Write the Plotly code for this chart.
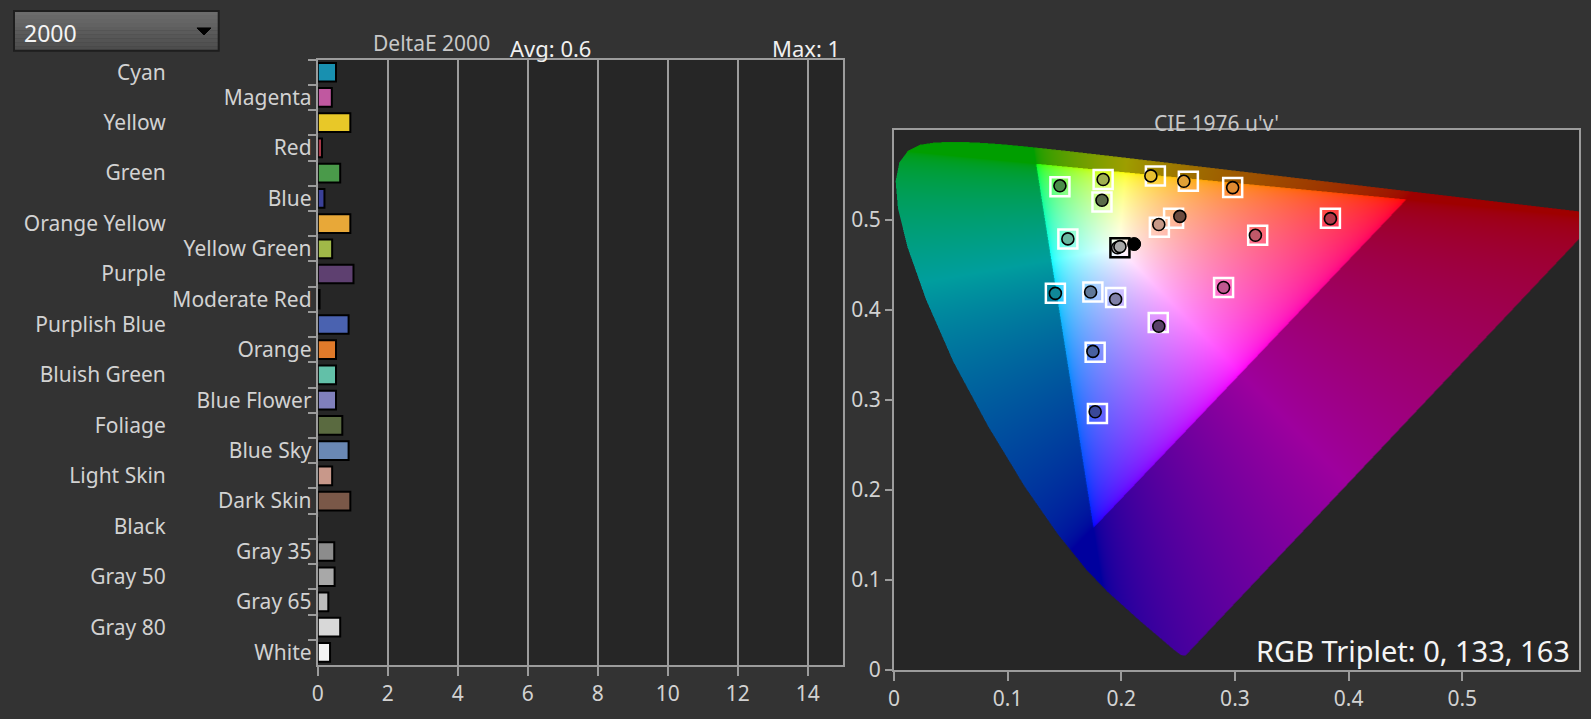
import base64
import struct
import zlib

import numpy as np
import plotly.graph_objects as go

# ---------------- data ----------------
# DeltaE 2000 per ColorChecker patch, top to bottom
patch_names = ["Cyan", "Magenta", "Yellow", "Red", "Green", "Blue", "Orange Yellow",
               "Yellow Green", "Purple", "Moderate Red", "Purplish Blue", "Orange",
               "Bluish Green", "Blue Flower", "Foliage", "Blue Sky", "Light Skin",
               "Dark Skin", "Black", "Gray 35", "Gray 50", "Gray 65", "Gray 80", "White"]
delta_e = [0.52, 0.40, 0.93, 0.12, 0.64, 0.19, 0.93, 0.41, 1.02, 0.05, 0.88, 0.52,
           0.52, 0.52, 0.70, 0.88, 0.41, 0.93, 0.0, 0.47, 0.48, 0.30, 0.64, 0.35]
patch_colors = ["#1890b0", "#c058a0", "#e8c828", "#a83848", "#4a9a4a", "#3a4098",
                "#e8a838", "#a0b848", "#5e4070", "#c05060", "#4a62b0", "#e07a2a",
                "#62c0a8", "#8080bc", "#5a6a40", "#6a88b4", "#c8988a", "#7a5848",
                "#202020", "#8c8c8c", "#a8a8a8", "#bcbcbc", "#d8d8d8", "#f4f4f4"]

# CIE 1976 u'v' targets (squares) and measurements (circles)
chroma_names = ["Green", "Yellow Green", "Foliage", "Yellow", "Orange Yellow", "Orange",
                "Dark Skin", "Light Skin", "Red", "Moderate Red", "Bluish Green",
                "Magenta", "Cyan", "Blue Sky", "Blue Flower", "Purple", "Purplish Blue", "Blue"]
target_u = [0.146, 0.184, 0.183, 0.230, 0.259, 0.298, 0.246, 0.2335, 0.384, 0.320, 0.153,
            0.290, 0.142, 0.175, 0.195, 0.2325, 0.177, 0.179]
target_v = [0.537, 0.545, 0.520, 0.549, 0.543, 0.536, 0.502, 0.492, 0.502, 0.483, 0.479,
            0.425, 0.4185, 0.420, 0.414, 0.386, 0.353, 0.285]
meas_u = [0.146, 0.184, 0.183, 0.226, 0.255, 0.298, 0.2515, 0.233, 0.384, 0.318, 0.153,
          0.290, 0.142, 0.173, 0.195, 0.233, 0.175, 0.177]
meas_v = [0.538, 0.545, 0.522, 0.549, 0.543, 0.536, 0.504, 0.495, 0.5015, 0.483, 0.479,
          0.425, 0.4185, 0.420, 0.412, 0.382, 0.354, 0.287]
meas_colors = ["#4a8c4a", "#a0b050", "#5a6a48", "#e8c030", "#e0a035", "#e08a30",
               "#6a4a3e", "#c89a88", "#b03848", "#c05868", "#68b8a0", "#c05890",
               "#108898", "#607898", "#8080a8", "#5a4068", "#4860a0", "#3a4898"]
white_u = [0.1988]
white_v = [0.4692]
gray_u = [0.1967, 0.1988]
gray_v = [0.4692, 0.4704]
black_u = [0.2113]
black_v = [0.4733]

# CIE 1931 spectral locus (x, y), 380-700 nm
locus_x = [0.1741, 0.1738, 0.1733, 0.1726, 0.1714, 0.1689, 0.1644, 0.1566, 0.1440, 0.1355,
           0.1241, 0.1096, 0.0913, 0.0687, 0.0454, 0.0235, 0.0082, 0.0039, 0.0139, 0.0389,
           0.0743, 0.1142, 0.1547, 0.1929, 0.2296, 0.2658, 0.3016, 0.3373, 0.3731, 0.4087,
           0.4441, 0.4788, 0.5125, 0.5448, 0.5752, 0.6029, 0.6270, 0.6482, 0.6658, 0.6915,
           0.7079, 0.7190, 0.7260, 0.7300, 0.7334, 0.7347]
locus_y = [0.0050, 0.0049, 0.0048, 0.0048, 0.0051, 0.0069, 0.0109, 0.0177, 0.0297, 0.0399,
           0.0578, 0.0868, 0.1327, 0.2007, 0.2950, 0.4127, 0.5384, 0.6548, 0.7502, 0.8120,
           0.8338, 0.8262, 0.8059, 0.7816, 0.7543, 0.7243, 0.6923, 0.6589, 0.6245, 0.5896,
           0.5547, 0.5202, 0.4866, 0.4544, 0.4242, 0.3965, 0.3725, 0.3514, 0.3340, 0.3083,
           0.2920, 0.2809, 0.2740, 0.2700, 0.2666, 0.2653]

U_MAX = 0.603
V_MAX = 0.6

PAPER = "#333333"
PLOT = "#262626"
LINE = "#9c9c9c"
TEXT = "#d2d2d2"
FONT = "Noto Sans"


# ---------------- chromaticity backdrop ----------------
def in_polygon(px, py, pu, pv):
    res = np.zeros(px.shape, dtype=bool)
    j = len(pu) - 1
    for i in range(len(pu)):
        cross = (pv[i] > py) != (pv[j] > py)
        xint = (pu[j] - pu[i]) * (py - pv[i]) / (pv[j] - pv[i] + 1e-12) + pu[i]
        res ^= cross & (px < xint)
        j = i
    return res


def make_backdrop(w=686, h=540, ss=2):
    lx = np.array(locus_x)
    ly = np.array(locus_y)
    d = -2 * lx + 12 * ly + 3
    lu, lv = 4 * lx / d, 9 * ly / d

    uu = (np.arange(w * ss) + 0.5) / (w * ss) * U_MAX
    vv = V_MAX - (np.arange(h * ss) + 0.5) / (h * ss) * V_MAX
    U, V = np.meshgrid(uu, vv)
    den = 6 * U - 16 * V + 12
    x = 9 * U / den
    y = 4 * V / den
    X = x / y
    Z = (1 - x - y) / y
    r = 3.2406 * X - 1.5372 - 0.4986 * Z
    g = -0.9689 * X + 1.8758 + 0.0415 * Z
    b = 0.0557 * X - 0.2040 + 1.0570 * Z
    lin = np.stack([r, g, b], axis=-1)
    outside = (lin < 0).any(axis=-1)
    lin = np.clip(lin, 0, None)
    lin = lin / np.maximum(lin.max(axis=-1, keepdims=True), 1e-9)
    rgb = np.where(lin <= 0.0031308, 12.92 * lin, 1.055 * lin ** (1 / 2.4) - 0.055)
    rgb[outside] *= 0.62
    alpha = in_polygon(U, V, lu, lv).astype(float)

    rgb = rgb * alpha[..., None]
    rgb = rgb.reshape(h, ss, w, ss, 3).sum(axis=(1, 3))
    a = alpha.reshape(h, ss, w, ss).sum(axis=(1, 3))
    rgb = rgb / np.maximum(a, 1e-9)[..., None]
    a = a / (ss * ss)
    img = np.concatenate([rgb, a[..., None]], axis=-1)
    img = (np.clip(img, 0, 1) * 255 + 0.5).astype(np.uint8)

    raw = b"".join(b"\x00" + img[i].tobytes() for i in range(h))

    def chunk(tag, data):
        c = struct.pack(">I", len(data)) + tag + data
        return c + struct.pack(">I", zlib.crc32(tag + data) & 0xFFFFFFFF)

    png = b"\x89PNG\r\n\x1a\n"
    png += chunk(b"IHDR", struct.pack(">IIBBBBB", w, h, 8, 6, 0, 0, 0))
    png += chunk(b"IDAT", zlib.compress(raw, 9))
    png += chunk(b"IEND", b"")
    return "data:image/png;base64," + base64.b64encode(png).decode()


# ---------------- figure ----------------
fig = go.Figure()

fig.add_trace(go.Bar(
    x=delta_e, y=patch_names, orientation="h", width=0.74,
    marker=dict(color=patch_colors, line=dict(color="black", width=2)),
    xaxis="x", yaxis="y", showlegend=False, hoverinfo="x+y",
))
# carrier for the second column of patch labels
fig.add_trace(go.Scatter(x=[None], y=[None], xaxis="x", yaxis="y3",
                         showlegend=False, hoverinfo="skip"))

fig.add_trace(go.Scatter(
    x=target_u, y=target_v, mode="markers", xaxis="x2", yaxis="y2",
    marker=dict(symbol="square-open", size=19, line=dict(color="white", width=2.5),
                color="white"),
    text=chroma_names, hoverinfo="text+x+y", showlegend=False,
))
fig.add_trace(go.Scatter(
    x=gray_u, y=gray_v, mode="markers", xaxis="x2", yaxis="y2",
    marker=dict(symbol="circle", size=12, color="#a8a8a8", line=dict(color="black", width=1.6)),
    hoverinfo="x+y", showlegend=False,
))
fig.add_trace(go.Scatter(
    x=white_u, y=white_v, mode="markers", xaxis="x2", yaxis="y2",
    marker=dict(symbol="square-open", size=19, color="black", line=dict(color="black", width=2.5)),
    hoverinfo="x+y", showlegend=False,
))
fig.add_trace(go.Scatter(
    x=black_u, y=black_v, mode="markers", xaxis="x2", yaxis="y2",
    marker=dict(symbol="circle", size=13, color="black", line=dict(color="black", width=1)),
    hoverinfo="x+y", showlegend=False,
))
fig.add_trace(go.Scatter(
    x=meas_u, y=meas_v, mode="markers", xaxis="x2", yaxis="y2",
    marker=dict(symbol="circle", size=12, color=meas_colors, line=dict(color="black", width=1.6)),
    text=chroma_names, hoverinfo="text+x+y", showlegend=False,
))

odd_text = [n if i % 2 == 1 else "" for i, n in enumerate(patch_names)]
even_idx = list(range(0, len(patch_names), 2))
even_text = [patch_names[i] for i in even_idx]

axis_common = dict(showline=True, linecolor=LINE, linewidth=2, mirror=True,
                   tickcolor=LINE, tickwidth=2, zeroline=False, automargin=False,
                   tickfont=dict(family=FONT, size=21, color=TEXT))

# dropdown look-alike: stepped vertical gradient, then border and arrow
box_x0, box_x1, box_y0, box_y1 = 0.0088, 0.13746, 0.92949, 0.9847
steps = 10
shapes = []
for k in range(steps):
    lvl = int(0x4c + (0x6e - 0x4c) * (k + 0.5) / steps)
    shapes.append(dict(type="rect", xref="paper", yref="paper", layer="above",
                       x0=box_x0, x1=box_x1,
                       y0=box_y0 + (box_y1 - box_y0) * k / steps,
                       y1=box_y0 + (box_y1 - box_y0) * (k + 1) / steps,
                       fillcolor="rgb(%d,%d,%d)" % (lvl, lvl, lvl), line=dict(width=0)))
shapes.append(dict(type="rect", xref="paper", yref="paper", x0=box_x0, x1=box_x1,
                   y0=box_y0, y1=box_y1, line=dict(color="#1e1e1e", width=2)))
shapes.append(dict(type="path", xref="paper", yref="paper",
                   path="M 0.1238 0.9611 L 0.1326 0.9611 L 0.1282 0.9513 Z",
                   fillcolor="black", line=dict(color="black", width=1)))

fig.update_layout(
    width=1591, height=719,
    margin=dict(l=0, r=0, t=0, b=0, autoexpand=False),
    paper_bgcolor=PAPER, plot_bgcolor=PLOT,
    font=dict(family=FONT, size=21, color=TEXT),
    xaxis=dict(domain=[0.19975, 0.52967], anchor="y", range=[0, 15], dtick=2,
               ticks="outside", ticklen=9, showgrid=True, gridcolor=LINE, gridwidth=2,
               fixedrange=True, **axis_common),
    yaxis=dict(domain=[0.0751, 0.9171], anchor="x", type="category",
               categoryorder="array", categoryarray=patch_names, autorange="reversed",
               tickmode="array", tickvals=patch_names, ticktext=odd_text,
               tickson="boundaries", ticks="outside", ticklen=8, showgrid=False,
               fixedrange=True, **axis_common),
    yaxis3=dict(overlaying="y", anchor="x", side="left", range=[23.5, -0.5],
                tickmode="array", tickvals=even_idx, ticktext=even_text,
                ticks="", showline=False, showgrid=False, zeroline=False,
                ticklabelstandoff=151, fixedrange=True, automargin=False,
                tickfont=dict(family=FONT, size=21, color=TEXT)),
    xaxis2=dict(domain=[0.56191, 0.99265], anchor="y2", range=[0, U_MAX],
                tickvals=[0, 0.1, 0.2, 0.3, 0.4, 0.5], ticks="outside", ticklen=9,
                showgrid=False, fixedrange=True, **axis_common),
    yaxis2=dict(domain=[0.06815, 0.81919], anchor="x2", range=[0, V_MAX],
                tickvals=[0, 0.1, 0.2, 0.3, 0.4, 0.5], ticks="outside", ticklen=7,
                showgrid=False, fixedrange=True, **axis_common),
    images=[dict(source=make_backdrop(), xref="x2", yref="y2", x=0, y=V_MAX,
                 sizex=U_MAX, sizey=V_MAX, sizing="stretch",
                 xanchor="left", yanchor="top", layer="below")],
    shapes=shapes,
    annotations=[
        dict(text="2000", xref="paper", yref="paper", x=0.0138, y=0.9541,
             xanchor="left", yanchor="middle", showarrow=False,
             font=dict(family=FONT, size=23, color="#f4f4f4")),
        dict(text="DeltaE 2000", xref="paper", yref="paper", x=0.2713, y=0.9396,
             xanchor="center", yanchor="middle", showarrow=False,
             font=dict(family=FONT, size=21, color="#c8c8c8")),
        dict(text="Avg: 0.6", xref="paper", yref="paper", x=0.3457, y=0.9339,
             xanchor="center", yanchor="middle", showarrow=False,
             font=dict(family=FONT, size=22, color="#f0f0f0")),
        dict(text="Max: 1", xref="paper", yref="paper", x=0.5292, y=0.9339,
             xanchor="right", yanchor="middle", showarrow=False,
             font=dict(family=FONT, size=22, color="#f0f0f0")),
        dict(text="CIE 1976 u'v'", xref="paper", yref="paper", x=0.7649, y=0.8289,
             xanchor="center", yanchor="middle", showarrow=False,
             font=dict(family=FONT, size=21, color="#c8c8c8")),
        dict(text="RGB Triplet: 0, 133, 163", xref="paper", yref="paper", x=0.9879, y=0.0946,
             xanchor="right", yanchor="middle", showarrow=False,
             font=dict(family=FONT, size=29, color="#f4f4f4")),
    ],
)

page_css = (
    "var h=document.documentElement, b=document.body;"
    "h.style.margin='0'; h.style.height='719px'; h.style.overflow='hidden';"
    "h.style.background='#333333';"
    "b.style.margin='0'; b.style.height='719px'; b.style.overflow='hidden';"
    "b.style.background='#333333';"
)
fig.write_html("out.html", config={"displayModeBar": False}, post_script=page_css)
